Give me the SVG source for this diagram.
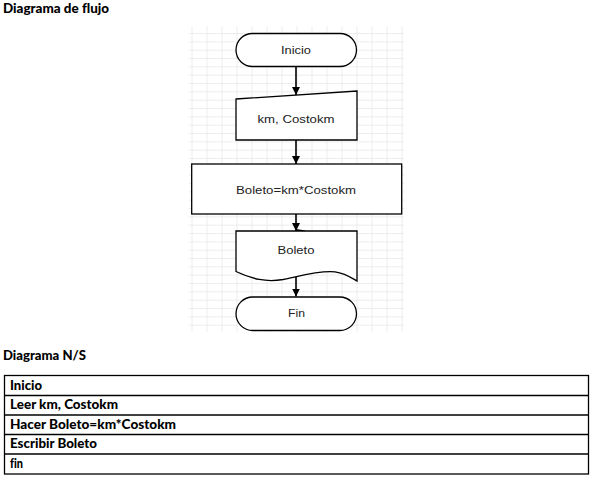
<svg xmlns="http://www.w3.org/2000/svg" width="595" height="477" viewBox="0 0 595 477">
  <style>
    .heading { font-family: "Lato", "Open Sans", "Liberation Sans", sans-serif; font-weight: 900; font-size: 14px; fill: #000; font-variant-ligatures: none; }
    .cell { font-family: "Lato", "Open Sans", "Liberation Sans", sans-serif; font-weight: 900; font-size: 13.5px; fill: #000; font-variant-ligatures: none; }
    .shape { fill: #fff; stroke: #000; stroke-width: 1.3; }
    .label { font-family: "Liberation Sans", Arial, sans-serif; font-size: 10px; fill: #222; text-anchor: middle; }
    .grid line { stroke: #e8e8e8; stroke-width: 0.8; }
    .conn { stroke: #000; stroke-width: 1.6; fill: none; marker-end: url(#arrow); }
    .row { stroke: #000; stroke-width: 1.3; fill: none; }
  </style>
  <defs>
    <marker id="arrow" viewBox="0 0 10 10" refX="10" refY="5" markerWidth="8" markerHeight="9" markerUnits="userSpaceOnUse" orient="auto">
      <path d="M0,0 L10,5 L0,10 Z" fill="#000"/>
    </marker>
  </defs>

  <rect width="595" height="477" fill="#fff"/>

  <text class="heading" x="3" y="13" textLength="106" lengthAdjust="spacingAndGlyphs">Diagrama de flujo</text>

  <!-- background grid of the flowchart canvas -->
  <g class="grid">
    <line x1="192" y1="26" x2="192" y2="332"/>
    <line x1="207" y1="26" x2="207" y2="332"/>
    <line x1="222" y1="26" x2="222" y2="332"/>
    <line x1="237" y1="26" x2="237" y2="332"/>
    <line x1="252" y1="26" x2="252" y2="332"/>
    <line x1="267" y1="26" x2="267" y2="332"/>
    <line x1="282" y1="26" x2="282" y2="332"/>
    <line x1="297" y1="26" x2="297" y2="332"/>
    <line x1="312" y1="26" x2="312" y2="332"/>
    <line x1="327" y1="26" x2="327" y2="332"/>
    <line x1="342" y1="26" x2="342" y2="332"/>
    <line x1="357" y1="26" x2="357" y2="332"/>
    <line x1="372" y1="26" x2="372" y2="332"/>
    <line x1="387" y1="26" x2="387" y2="332"/>
    <line x1="402" y1="26" x2="402" y2="332"/>
    <line x1="189" y1="33.5" x2="404" y2="33.5"/>
    <line x1="189" y1="41.8" x2="404" y2="41.8"/>
    <line x1="189" y1="50.2" x2="404" y2="50.2"/>
    <line x1="189" y1="58.5" x2="404" y2="58.5"/>
    <line x1="189" y1="66.8" x2="404" y2="66.8"/>
    <line x1="189" y1="75.2" x2="404" y2="75.2"/>
    <line x1="189" y1="83.5" x2="404" y2="83.5"/>
    <line x1="189" y1="91.8" x2="404" y2="91.8"/>
    <line x1="189" y1="100.2" x2="404" y2="100.2"/>
    <line x1="189" y1="108.5" x2="404" y2="108.5"/>
    <line x1="189" y1="116.8" x2="404" y2="116.8"/>
    <line x1="189" y1="125.2" x2="404" y2="125.2"/>
    <line x1="189" y1="133.5" x2="404" y2="133.5"/>
    <line x1="189" y1="141.8" x2="404" y2="141.8"/>
    <line x1="189" y1="150.2" x2="404" y2="150.2"/>
    <line x1="189" y1="158.5" x2="404" y2="158.5"/>
    <line x1="189" y1="166.8" x2="404" y2="166.8"/>
    <line x1="189" y1="175.2" x2="404" y2="175.2"/>
    <line x1="189" y1="183.5" x2="404" y2="183.5"/>
    <line x1="189" y1="191.8" x2="404" y2="191.8"/>
    <line x1="189" y1="200.2" x2="404" y2="200.2"/>
    <line x1="189" y1="208.5" x2="404" y2="208.5"/>
    <line x1="189" y1="216.8" x2="404" y2="216.8"/>
    <line x1="189" y1="225.2" x2="404" y2="225.2"/>
    <line x1="189" y1="233.5" x2="404" y2="233.5"/>
    <line x1="189" y1="241.8" x2="404" y2="241.8"/>
    <line x1="189" y1="250.2" x2="404" y2="250.2"/>
    <line x1="189" y1="258.5" x2="404" y2="258.5"/>
    <line x1="189" y1="266.8" x2="404" y2="266.8"/>
    <line x1="189" y1="275.2" x2="404" y2="275.2"/>
    <line x1="189" y1="283.5" x2="404" y2="283.5"/>
    <line x1="189" y1="291.8" x2="404" y2="291.8"/>
    <line x1="189" y1="300.2" x2="404" y2="300.2"/>
    <line x1="189" y1="308.5" x2="404" y2="308.5"/>
    <line x1="189" y1="316.8" x2="404" y2="316.8"/>
    <line x1="189" y1="325.2" x2="404" y2="325.2"/>
  </g>

  <!-- connectors -->
  <g id="connectors">
    <line class="conn" x1="296" y1="66.5" x2="296" y2="95"/>
    <line class="conn" x1="296" y1="140" x2="296" y2="164"/>
    <line class="conn" x1="296" y1="214" x2="296" y2="231"/>
    <path d="M296,229 L306,230.6 L296,232.5 Z" fill="#000"/>
    <line class="conn" x1="296" y1="277" x2="296" y2="296.5"/>
  </g>

  <g id="inicio">
    <rect class="shape" x="236" y="33.5" width="120.5" height="33" rx="16.5" ry="16.5"/>
    <text class="label" x="296" y="53.5" textLength="30" lengthAdjust="spacingAndGlyphs">Inicio</text>
  </g>

  <g id="leer">
    <path class="shape" d="M236,99 L357,91 L357,140 L236,140 Z"/>
    <text class="label" x="296" y="122.5" textLength="77" lengthAdjust="spacingAndGlyphs">km, Costokm</text>
  </g>

  <g id="calculo">
    <rect class="shape" x="191.7" y="164" width="210" height="50"/>
    <text class="label" x="296" y="193.5" textLength="120" lengthAdjust="spacingAndGlyphs">Boleto=km*Costokm</text>
  </g>

  <g id="salida">
    <path class="shape" d="M236,231 L357,231 L357,281 C352,278 345,273 335,271.8 C320,270 300,276 283,279.5 C266,282.5 252,279 236,271.5 Z"/>
    <text class="label" x="296" y="254" textLength="37" lengthAdjust="spacingAndGlyphs">Boleto</text>
  </g>

  <g id="fin">
    <rect class="shape" x="236" y="297" width="120.5" height="33.5" rx="16.75" ry="16.75"/>
    <text class="label" x="296.5" y="316.5" textLength="17" lengthAdjust="spacingAndGlyphs">Fin</text>
  </g>

  <text class="heading" x="3" y="360" textLength="83" lengthAdjust="spacingAndGlyphs">Diagrama N/S</text>

  <!-- Nassi-Shneiderman table -->
  <g id="ns-table">
    <rect class="row" x="4.5" y="375.5" width="584" height="98.5"/>
    <line class="row" x1="4.5" y1="395.5" x2="588.5" y2="395.5"/>
    <line class="row" x1="4.5" y1="415" x2="588.5" y2="415"/>
    <line class="row" x1="4.5" y1="434.5" x2="588.5" y2="434.5"/>
    <line class="row" x1="4.5" y1="454" x2="588.5" y2="454"/>
    <text class="cell" x="10" y="389.5" textLength="32" lengthAdjust="spacingAndGlyphs">Inicio</text>
    <text class="cell" x="10" y="409" textLength="108" lengthAdjust="spacingAndGlyphs">Leer km, Costokm</text>
    <text class="cell" x="10" y="428.5" textLength="166" lengthAdjust="spacingAndGlyphs">Hacer Boleto=km*Costokm</text>
    <text class="cell" x="10" y="448" textLength="87" lengthAdjust="spacingAndGlyphs">Escribir Boleto</text>
    <text class="cell" x="10" y="467.5" textLength="13" lengthAdjust="spacingAndGlyphs">fin</text>
  </g>
</svg>
